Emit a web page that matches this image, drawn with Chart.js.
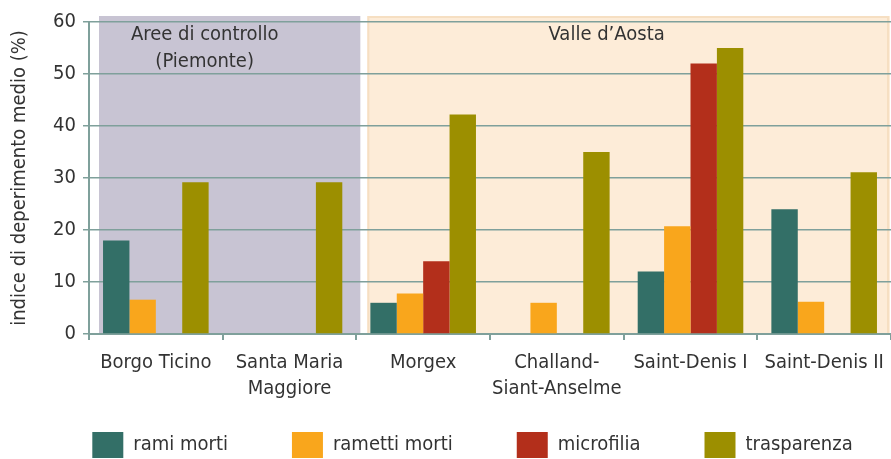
<!DOCTYPE html>
<html>
<head>
<meta charset="utf-8">
<script src="https://cdn.jsdelivr.net/npm/chart.js@4"></script>
<style>
  html, body { margin: 0; padding: 0; background: #fff; }
  #wrap { width: 891px; height: 459px; }
</style>
</head>
<body>
<div id="wrap"><canvas id="chart"></canvas></div>
<script>
var sites = ["Borgo Ticino", ["Santa Maria", "Maggiore"], "Morgex", ["Challand-", "Siant-Anselme"], "Saint-Denis I", "Saint-Denis II"];
var ramiMorti = [18, null, 6, null, 12, 24];
var ramettiMorti = [6.6, null, 7.8, 6, 20.7, 6.2];
var microfilia = [null, null, 14, null, 52, null];
var trasparenza = [29.2, 29.2, 42.2, 35, 55, 31.1];
var yTicks = [0, 10, 20, 30, 40, 50, 60];

var fontFamily = "'DejaVu Sans Condensed', 'DejaVu Sans', sans-serif";
var fontSize = 20;
var textColor = "#333333";
var gridColor = "#7fa09b";

// shaded regions + group titles behind the grid
var regions = {
    id: "regions",
    beforeDraw: function (chart) {
        var ctx = chart.ctx;
        var x = chart.scales.x;
        var area = chart.chartArea;
        var half = (x.getPixelForValue(1) - x.getPixelForValue(0)) / 2;
        var start = x.getPixelForValue(0) - half + 10;
        var split = x.getPixelForValue(2) - half;
        var top = area.top - 6;

        ctx.save();
        ctx.fillStyle = "#c8c4d3";
        ctx.fillRect(start, top, split + 4 - start, area.bottom - top);
        ctx.fillStyle = "#fdecd8";
        ctx.fillRect(split + 11, top, area.right - 1 - (split + 11), area.bottom - top);
        ctx.strokeStyle = "#f6dfc2";
        ctx.lineWidth = 2;
        ctx.strokeRect(split + 12, top + 1, area.right - 3 - (split + 12), area.bottom - top - 1);

        ctx.fillStyle = textColor;
        ctx.font = fontSize + "px " + fontFamily;
        ctx.textAlign = "center";
        ctx.textBaseline = "middle";
        var cx1 = x.getPixelForValue(0.5) - 18;
        ctx.fillText("Aree di controllo", cx1, area.top + 13);
        ctx.fillText("(Piemonte)", cx1, area.top + 40);
        ctx.fillText("Valle d\u2019Aosta", x.getPixelForValue(3.5) - 17, area.top + 13);
        ctx.restore();
    }
};

// short legend box at the bottom edge, wide gaps between items
var legendFit = {
    id: "legendFit",
    afterInit: function (chart) {
        var legend = chart.legend;
        var fit = legend.fit;
        var draw = legend.draw;
        legend.fit = function () {
            fit.call(this);
            this.height = 28;
        };
        legend.draw = function () {
            var top = this.top, left = this.left, right = this.right;
            this.top = top - this.options.labels.padding + 2;
            this.left = left + 27;
            this.right = right + 27;
            draw.call(this);
            this.top = top;
            this.left = left;
            this.right = right;
        };
    }
};

var context = document.getElementById("chart").getContext("2d");
var chart = new Chart(context, {
    type: "bar",
    data: {
        labels: sites,
        datasets: [{
            label: "rami morti",
            data: ramiMorti,
            backgroundColor: "#336f67"
        }, {
            label: "rametti morti",
            data: ramettiMorti,
            backgroundColor: "#f9a61c"
        }, {
            label: "microfilia",
            data: microfilia,
            backgroundColor: "#b32f1b"
        }, {
            label: "trasparenza",
            data: trasparenza,
            backgroundColor: "#9c8f00"
        }]
    },
    options: {
        responsive: true,
        maintainAspectRatio: false,
        animation: false,
        devicePixelRatio: 1,
        datasets: {
            bar: { categoryPercentage: 0.79, barPercentage: 1, borderWidth: 0 }
        },
        layout: { padding: { top: 22, right: 0, bottom: 1, left: 0 } },
        plugins: {
            legend: {
                position: "bottom",
                labels: {
                    boxWidth: 31,
                    boxHeight: 26,
                    padding: 64,
                    color: textColor,
                    font: { family: fontFamily, size: fontSize }
                }
            },
            tooltip: { enabled: false }
        },
        scales: {
            x: {
                grid: { offset: true, drawOnChartArea: false, color: gridColor, lineWidth: 2, tickLength: 6 },
                border: { color: gridColor, width: 2 },
                ticks: { color: textColor, padding: 10, maxRotation: 0, autoSkip: false, font: { family: fontFamily, size: fontSize, lineHeight: 1.3 } },
                afterFit: function (scale) {
                    scale.height = 96;
                    scale.paddingLeft = 0;
                    scale.paddingRight = 0;
                }
            },
            y: {
                min: 0,
                max: 60,
                afterBuildTicks: function (scale) {
                    scale.ticks = yTicks.map(function (v) { return { value: v }; });
                },
                grid: { color: gridColor, lineWidth: 1.5, tickLength: 6 },
                border: { color: gridColor, width: 2 },
                ticks: { color: textColor, padding: 7, font: { family: fontFamily, size: fontSize } },
                title: {
                    display: true,
                    text: "indice di deperimento medio (%)",
                    color: textColor,
                    padding: { top: 8, bottom: 0 },
                    font: { family: fontFamily, size: fontSize }
                },
                afterFit: function (scale) { scale.width = 89; }
            }
        }
    },
    plugins: [regions, legendFit]
});
</script>
</body>
</html>
